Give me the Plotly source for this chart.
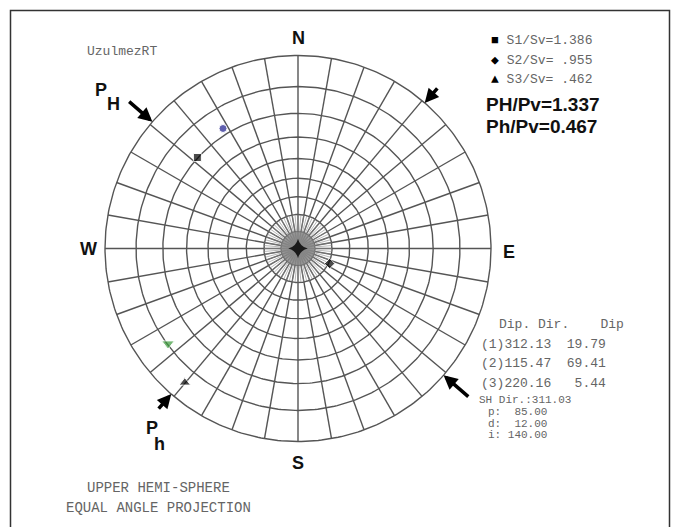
import numpy as np
import plotly.graph_objects as go

# Principal stress axes (dip direction / dip, degrees)
axis_ids = ["(1)", "(2)", "(3)"]
dip_dirs = [312.13, 115.47, 220.16]
dips = [19.79, 69.41, 5.44]

# Stress ratios
ratio_names = ["S1/Sv", "S2/Sv", "S3/Sv"]
ratios = [1.386, 0.955, 0.462]
ratio_symbols = ["■", "◆", "▲"]
PH_Pv = 1.337
Ph_Pv = 0.467

# Horizontal stress direction and input parameters
sh_dir = 311.03
param_names = ["p", "d", "i"]
param_values = [85.00, 12.00, 140.00]

# Additional plotted poles (dip direction / dip)
pole_dirs = [328.0, 233.8]
pole_dips = [17.5, 10.3]
pole_colors = ["#1c1c8c", "#3a9a3a"]
pole_symbols = ["circle", "triangle-down"]

W, H = 679, 527
CX, CY, R = 298.0, 248.5, 193.0   # net centre and radius in pixels

GRID = "#555555"
TXT = "#656565"
MONO = "Liberation Mono, DejaVu Sans Mono, monospace"
SANS = "Liberation Sans, Arial, sans-serif"


def project(az_deg, dip_deg):
    """Equal-angle (Wulff) projection of a line; unit net radius."""
    az = np.radians(np.asarray(az_deg, dtype=float))
    theta = np.radians(90.0 - np.asarray(dip_deg, dtype=float))
    r = np.tan(theta / 2.0)
    return r * np.sin(az), r * np.cos(az)


def pxx(x):
    return x / W


def pxy(y):
    return 1 - y / H


def label(x, y, text, font, xanchor="center"):
    fig.add_annotation(x=pxx(x), y=pxy(y), xref="paper", yref="paper",
                       xanchor=xanchor, yanchor="middle", text=text,
                       showarrow=False, font=font)


fig = go.Figure()

# ---- polar grid: dip circles every 10 deg, spokes every 10 deg ----
t = np.linspace(0, 2 * np.pi, 361)
gx, gy = [], []
for dip in range(0, 90, 10):
    r = np.tan(np.radians(90 - dip) / 2)
    gx += list(r * np.sin(t)) + [None]
    gy += list(r * np.cos(t)) + [None]
for az in range(0, 360, 10):
    a = np.radians(az)
    gx += [0, np.sin(a), None]
    gy += [0, np.cos(a), None]
fig.add_trace(go.Scatter(x=gx, y=gy, mode="lines",
                         line=dict(color=GRID, width=1.4),
                         hoverinfo="skip", showlegend=False))

# denser spokes near the vertical
r70 = np.tan(np.radians(20) / 2)
r80 = np.tan(np.radians(10) / 2)
cx_, cy_ = [], []
for az in range(0, 360, 5):
    a = np.radians(az)
    cx_ += [0, r70 * np.sin(a), None]
    cy_ += [0, r70 * np.cos(a), None]
for az in range(0, 360, 2):
    a = np.radians(az)
    cx_ += [0, r80 * np.sin(a), None]
    cy_ += [0, r80 * np.cos(a), None]
fig.add_trace(go.Scatter(x=cx_, y=cy_, mode="lines",
                         line=dict(color="#8a8a8a", width=0.6),
                         hoverinfo="skip", showlegend=False))
fig.add_trace(go.Scatter(x=[0], y=[0], mode="markers",
                         marker=dict(symbol="star-diamond", size=14, color="#1a1a1a"),
                         hoverinfo="skip", showlegend=False))

# ---- principal stress axes ----
ax_x, ax_y = project(dip_dirs, dips)
fig.add_trace(go.Scatter(x=ax_x, y=ax_y, mode="markers",
                         marker=dict(symbol=["square", "diamond", "triangle-up"],
                                     size=[8, 8, 10], color="black"),
                         hoverinfo="skip", showlegend=False))

# ---- additional poles ----
px_, py_ = project(pole_dirs, pole_dips)
fig.add_trace(go.Scatter(x=px_, y=py_, mode="markers",
                         marker=dict(symbol=pole_symbols, size=[8, 11],
                                     color=pole_colors),
                         hoverinfo="skip", showlegend=False))

# ---- horizontal stress arrows ----
arrows = [(sh_dir, 1.17), (sh_dir + 180, 1.18), (sh_dir + 90, 1.11), (sh_dir + 270, 1.11)]
for az, rt in arrows:
    a = np.radians(az)
    fig.add_annotation(x=np.sin(a), y=np.cos(a), xref="x", yref="y",
                       ax=rt * np.sin(a), ay=rt * np.cos(a), axref="x", ayref="y",
                       showarrow=True, arrowhead=2, arrowsize=0.8, arrowwidth=3.5,
                       arrowcolor="black", text="")

BIG = dict(family=SANS, size=18, color="#111111")

# ---- compass letters ----
for lab, (x, y) in {"N": (298, 38), "W": (88, 249), "E": (509, 252), "S": (298, 463)}.items():
    label(x, y, f"<b>{lab}</b>", BIG)

# PH / Ph labels
label(101, 90, "<b>P</b>", BIG)
label(113, 104, "<b>H</b>", BIG)
label(152, 428, "<b>P</b>", BIG)
label(159, 444, "<b>h</b>", BIG)

NB = "\u00a0"


def mono(txt):
    return txt.replace(" ", NB)


MONO13 = dict(family=MONO, size=13, color=TXT)
MONO14 = dict(family=MONO, size=14, color=TXT)
MONO11 = dict(family=MONO, size=11, color=TXT)

label(85, 51, "UzulmezRT", MONO13, "left")

# ratio legend
for k, (nm, v, sym) in enumerate(zip(ratio_names, ratios, ratio_symbols)):
    s = f"{v:.3f}"
    if s.startswith("0"):
        s = " " + s[1:]
    label(489, 41 + 19 * k,
          f"<span style='color:black'>{sym}</span>" + mono(f" {nm}={s}"),
          MONO13, "left")

label(484, 104, f"<b>PH/Pv={PH_Pv:.3f}</b>", dict(family=SANS, size=19, color="#111111"), "left")
label(484, 127, f"<b>Ph/Pv={Ph_Pv:.3f}</b>", dict(family=SANS, size=19, color="#111111"), "left")

# axis table
label(497, 324, mono("Dip. Dir.    Dip"), MONO13, "left")
for k, (aid, dd, dp) in enumerate(zip(axis_ids, dip_dirs, dips)):
    label(479, 344 + 19.5 * k, mono(f"{aid}{dd:6.2f} {dp:6.2f}"), MONO13, "left")
label(477, 400, mono(f"SH Dir.:{sh_dir:.2f}"), MONO11, "left")
for k, (nm, v) in enumerate(zip(param_names, param_values)):
    label(486, 412 + 11.5 * k, mono(f"{nm}:{v:7.2f}"), MONO11, "left")

# projection note
label(158, 488, mono("UPPER HEMI-SPHERE"), MONO14)
label(158, 508, mono("EQUAL ANGLE PROJECTION"), MONO14)

# outer frame (open at the bottom edge)
fig.add_shape(type="rect", xref="paper", yref="paper",
              x0=pxx(10.5), x1=pxx(669.5), y0=pxy(540), y1=pxy(10.5),
              line=dict(color="#333333", width=1.5))

fig.update_layout(
    width=W, height=H,
    margin=dict(l=0, r=0, t=0, b=0),
    paper_bgcolor="white", plot_bgcolor="white",
    xaxis=dict(range=[-CX / R, (W - CX) / R], visible=False, fixedrange=True),
    yaxis=dict(range=[-(H - CY) / R, CY / R], visible=False, fixedrange=True),
    showlegend=False,
)

fig.write_html("out.html")
